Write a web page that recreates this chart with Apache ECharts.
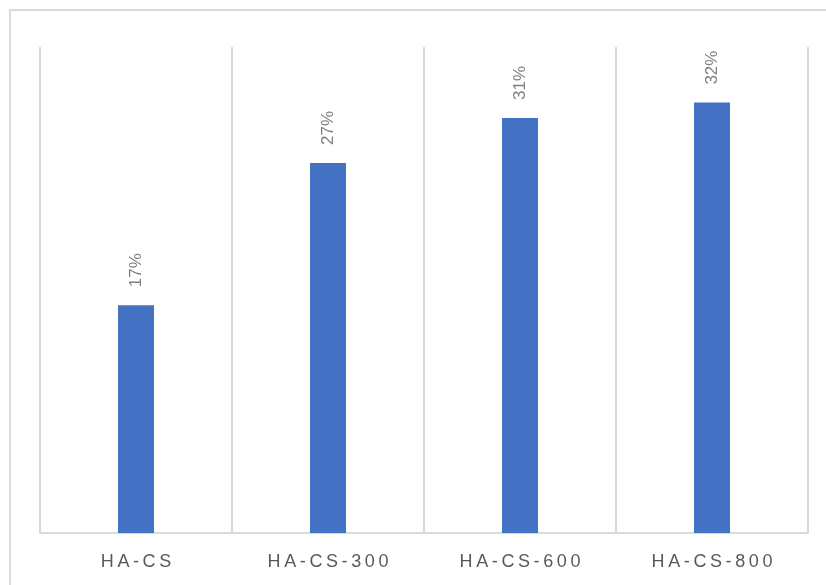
<!DOCTYPE html>
<html>
<head>
<meta charset="utf-8">
<title>HA-CS</title>
<script src="https://cdn.jsdelivr.net/npm/echarts@6/dist/echarts.min.js"></script>
<style>
  html, body { margin: 0; padding: 0; background: #ffffff; }
  #chart { width: 826px; height: 585px; }
</style>
</head>
<body>
<div id="chart"></div>
<script>
// Sample names along the category axis
const categories = ['HA-CS', 'HA-CS-300', 'HA-CS-600', 'HA-CS-800'];
// Measured fractions for each sample (shown as rounded percentages)
const values = [0.1687, 0.2741, 0.3074, 0.3188];
// Value axis range
const valueMin = 0;
const valueMax = 0.36;

const chart = echarts.init(document.getElementById('chart'), null, { renderer: 'canvas' });

// Spread letters out a little, like the wide tracking of the axis labels
const spaced = s => s.split('').join('\u2009');

chart.setOption({
  backgroundColor: '#ffffff',
  animation: false,
  graphic: [{
    type: 'rect',
    shape: { x: 10, y: 10, width: 840, height: 600 },
    style: { fill: 'none', stroke: '#d9d9d9', lineWidth: 2 },
    silent: true
  }],
  grid: { left: 40, right: 18, top: 47, bottom: 52, containLabel: false },
  xAxis: {
    type: 'category',
    data: categories,
    boundaryGap: true,
    axisLine: { show: true, lineStyle: { color: '#d9d9d9', width: 2 } },
    axisTick: { show: false },
    splitLine: { show: true, lineStyle: { color: '#d9d9d9', width: 2 } },
    axisLabel: {
      color: '#595959',
      fontSize: 18,
      fontFamily: 'Liberation Sans, Arial, sans-serif',
      margin: 20,
      formatter: v => spaced(v)
    }
  },
  yAxis: {
    type: 'value',
    min: valueMin,
    max: valueMax,
    show: false,
    splitLine: { show: false }
  },
  series: [{
    type: 'bar',
    data: values,
    barWidth: 36,
    itemStyle: { color: '#4472c4' },
    label: {
      show: true,
      position: 'top',
      rotate: 90,
      align: 'left',
      verticalAlign: 'middle',
      distance: 18,
      color: '#7f7f7f',
      fontSize: 17,
      fontFamily: 'Liberation Sans, Arial, sans-serif',
      formatter: p => Math.round(p.value * 100) + '%'
    }
  }]
});
</script>
</body>
</html>
